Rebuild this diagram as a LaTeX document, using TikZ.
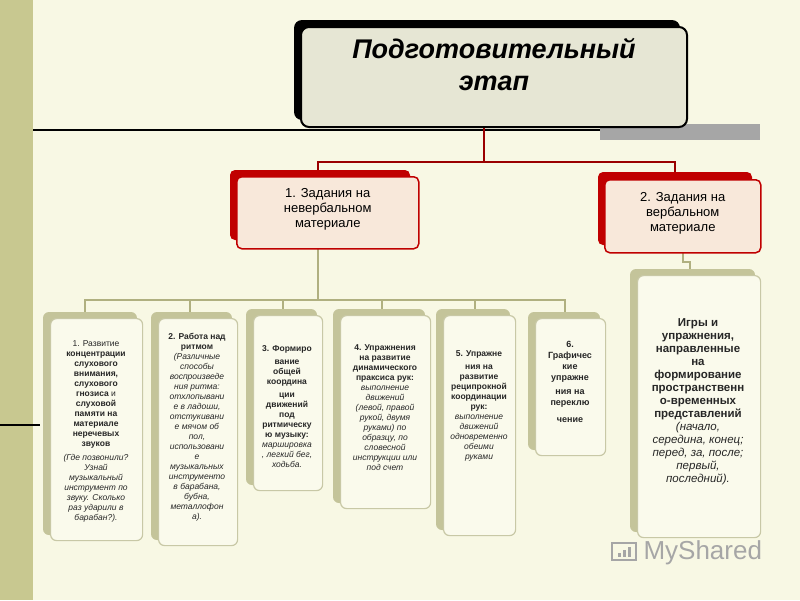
\documentclass[tikz,border=0pt]{standalone}
\usepackage{fontspec}
\setmainfont{Liberation Sans}
\begin{document}
\begin{tikzpicture}[x=1pt,y=-1pt,
 olivebox/.style={draw=olive!70!white, line width=1.2pt, fill=boxfill, rounded corners=6pt},
 redbox/.style={draw=redc, line width=1.5pt, fill=pinkfill, rounded corners=5pt},
 conn/.style={line width=1.2pt},
 btxt/.style={align=center, font=\fontsize{8.5}{10}\selectfont, inner sep=0pt, text=black!85},
]
\definecolor{bg}{HTML}{F8F8E4}
\definecolor{band}{HTML}{C8C890}
\definecolor{boxfill}{HTML}{FAFAEC}
\definecolor{shadowol}{HTML}{C4C49A}
\definecolor{olive}{HTML}{B0B080}
\definecolor{redc}{HTML}{C00000}
\definecolor{pinkfill}{HTML}{F8E8DA}
\definecolor{topfill}{HTML}{E6E6D4}
\useasboundingbox (0,0) rectangle (800,600);
\fill[bg] (0,0) rectangle (800,600);
\fill[band] (0,0) rectangle (33,600);
\draw[line width=1.2pt] (33,130) -- (600,130);
\fill[gray!70] (600,124) rectangle (760,140);
\draw[line width=1.2pt] (0,425) -- (40,425);

% connectors
\draw[conn, redc!80!black] (484,127) -- (484,162) -- (318,162) -- (318,175);
\draw[conn, redc!80!black] (484,162) -- (675,162) -- (675,178);
\draw[conn, olive] (318,248) -- (318,300);
\draw[conn, olive] (85,312) |- (565,300) -- (565,318);
\foreach \x in {190,283,382,475} \draw[conn, olive] (\x,300) -- (\x,312);
\draw[conn, olive] (683,252) -- (683,262) -- (690,262) -- (690,270);

% top box
\fill[black, rounded corners=8pt] (294,20) rectangle (680,120);
\node[draw=black, line width=2pt, fill=topfill, rounded corners=8pt, minimum width=386pt, minimum height=100pt, anchor=north west] (top) at (300,26) {};
\node[font=\bfseries\itshape\fontsize{27}{32}\selectfont, align=center] at (top.center) [yshift=12pt] {Подготовительный\\этап};

% red boxes
\fill[redc, rounded corners=5pt] (230,170) rectangle (410,240);
\node[redbox, minimum width=182pt, minimum height=72pt, anchor=north west] (r1) at (236,176) {};
\node[align=center, font=\fontsize{13}{15}\selectfont] at (r1.center) [yshift=3pt] {1. Задания на\\невербальном\\материале};
\fill[redc, rounded corners=5pt] (598,172) rectangle (752,245);
\node[redbox, minimum width=156pt, minimum height=73pt, anchor=north west] (r2) at (604,179) {};
\node[align=center, font=\fontsize{13}{15}\selectfont] at (r2.center) [yshift=3pt] {2. Задания на\\вербальном\\материале};

% bottom boxes
\newcommand{\obox}[5]{%
 \fill[shadowol, rounded corners=6pt] (#2-7,#3-6) rectangle (#4-5,#5-5);
 \node[olivebox, anchor=north west, minimum width=#4-#2, minimum height=#5-#3] (#1) at (#2,#3) {};
}
\obox{b1}{50}{318}{142}{540}
\obox{b2}{158}{318}{237}{545}
\obox{b3}{253}{315}{322}{490}
\obox{b4}{340}{315}{430}{508}
\obox{b5}{443}{315}{515}{535}
\obox{b6}{535}{318}{605}{455}
\obox{b7}{637}{275}{760}{537}

\node[btxt, anchor=north] at (96,340) {1. Развитие\\\textbf{концентрации}\\\textbf{слухового}\\\textbf{внимания,}\\\textbf{слухового}\\\textbf{гнозиса} и\\\textbf{слуховой}\\\textbf{памяти на}\\\textbf{материале}\\\textbf{неречевых}\\\textbf{звуков}\\[4pt] \textit{(Где позвонили?}\\\textit{Узнай}\\\textit{музыкальный}\\\textit{инструмент по}\\\textit{звуку. Сколько}\\\textit{раз ударили в}\\\textit{барабан?).}};
\node[btxt, anchor=north] at (197,333) {\textbf{2. Работа над}\\\textbf{ритмом}\\\textit{(Различные}\\\textit{способы}\\\textit{воспроизведе}\\\textit{ния ритма:}\\\textit{отхлопывани}\\\textit{е в ладоши,}\\\textit{отстукивани}\\\textit{е мячом об}\\\textit{пол,}\\\textit{использовани}\\\textit{е}\\\textit{музыкальных}\\\textit{инструменто}\\\textit{в барабана,}\\\textit{бубна,}\\\textit{металлофон}\\\textit{а).}};
\node[btxt, anchor=north] at (287,345) {\textbf{3. Формиро}\\[3pt]\textbf{вание}\\\textbf{общей}\\\textbf{координа}\\[3pt]\textbf{ции}\\\textbf{движений}\\\textbf{под}\\\textbf{ритмическу}\\\textbf{ю музыку:}\\\textit{маршировка}\\\textit{, легкий бег,}\\\textit{ходьба.}};
\node[btxt, anchor=north] at (385,344) {\textbf{4. Упражнения}\\\textbf{на развитие}\\\textbf{динамического}\\\textbf{праксиса рук:}\\\textit{выполнение}\\\textit{движений}\\\textit{(левой, правой}\\\textit{рукой, двумя}\\\textit{руками) по}\\\textit{образцу, по}\\\textit{словесной}\\\textit{инструкции или}\\\textit{под счет}};
\node[btxt, anchor=north] at (479,350) {\textbf{5. Упражне}\\[3pt]\textbf{ния на}\\\textbf{развитие}\\\textbf{реципрокной}\\\textbf{координации}\\\textbf{рук:}\\\textit{выполнение}\\\textit{движений}\\\textit{одновременно}\\\textit{обеими}\\\textit{руками}};
\node[btxt, anchor=north, font=\bfseries\fontsize{9}{11}\selectfont] at (570,341) {6.\\Графичес\\кие\\упражне\\[3pt]ния на\\переклю\\[6pt]чение};
\node[btxt, anchor=north, font=\fontsize{11.5}{13}\selectfont] at (698,318) {\textbf{Игры и}\\\textbf{упражнения,}\\\textbf{направленные}\\\textbf{на}\\\textbf{формирование}\\\textbf{пространственн}\\\textbf{о-временных}\\\textbf{представлений}\\\textit{(начало,}\\\textit{середина, конец;}\\\textit{перед, за, после;}\\\textit{первый,}\\\textit{последний).}};

% watermark
\node[anchor=west, text=gray!70, font=\fontsize{26}{28}\selectfont] (ms) at (640,553) {MyShared};
\draw[gray!70, line width=1.5pt] (612,543) rectangle (636,560);
\foreach \h/\xx in {4/618,7/623,10/628} \fill[gray!70] (\xx,557-\h) rectangle (\xx+3,557);
\end{tikzpicture}
\end{document}
